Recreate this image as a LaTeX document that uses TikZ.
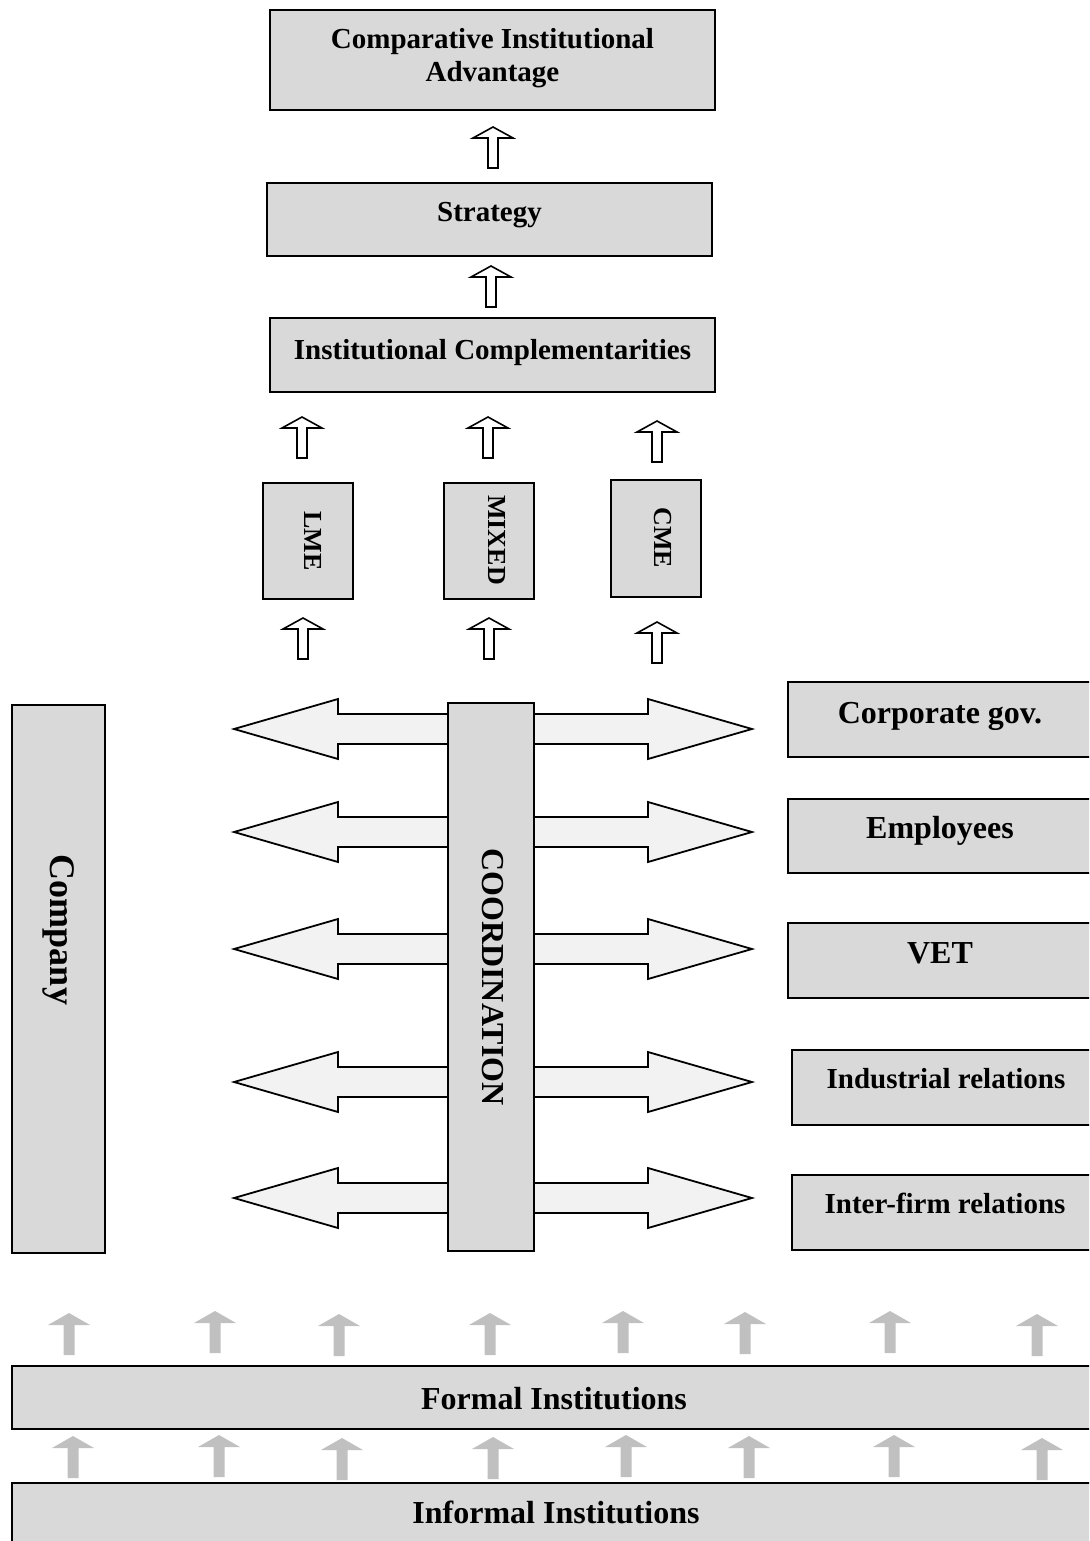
\documentclass[tikz,border=0pt]{standalone}
\usepackage{fontspec}
\setmainfont{Liberation Serif}
\definecolor{boxgray}{RGB}{217,217,217}
\definecolor{arrowfill}{RGB}{242,242,242}
\definecolor{upgray}{RGB}{192,192,192}
\begin{document}
\begin{tikzpicture}[x=0.5pt, y=-0.5pt,
    box/.style={draw, line width=1pt, fill=boxgray, inner sep=0pt},
    lbl/.style={font=\fontsize{14.5}{16.5}\selectfont\bfseries, inner sep=0pt},
    biglbl/.style={font=\fontsize{16}{18}\selectfont\bfseries, inner sep=0pt},
    smalllbl/.style={font=\fontsize{13}{15}\selectfont\bfseries, inner sep=0pt},
    hollow/.pic={\draw[line width=0.8pt, fill=white] (-5,0) -- (5,0) -- (5,-30) -- (20,-30) -- (0,-41) -- (-20,-30) -- (-5,-30) -- cycle;},
    greyup/.pic={\fill[upgray] (-5.5,0) -- (5.5,0) -- (5.5,-30) -- (21,-30) -- (0,-42) -- (-21,-30) -- (-5.5,-30) -- cycle;},
    twoway/.pic={\draw[line width=0.9pt, fill=arrowfill] (-259,0) -- (-155,-30) -- (-155,-15) -- (155,-15) -- (155,-30) -- (259,0) -- (155,30) -- (155,15) -- (-155,15) -- (-155,30) -- cycle;}
  ]
  \useasboundingbox (0,0) rectangle (1089,1541);
  \clip (0,0) rectangle (1089,1541);

  \foreach \y in {729,832,949,1082,1198}
    \pic at (493,\y) {twoway};

  \node[box, minimum width=222.5pt, minimum height=50pt] (cia) at (492.5,60) {};
  \node[box, minimum width=222.5pt, minimum height=36.5pt] (strat) at (489.5,219.5) {};
  \node[box, minimum width=222.5pt, minimum height=37pt] (ic) at (492.5,355) {};
  \node[box, minimum width=45pt, minimum height=58pt] (lme) at (308,541) {};
  \node[box, minimum width=45pt, minimum height=58pt] (mixed) at (489,541) {};
  \node[box, minimum width=45pt, minimum height=58.5pt] (cme) at (656,538.5) {};
  \node[box, minimum width=46.5pt, minimum height=274pt] (company) at (58.5,979) {};
  \node[box, minimum width=43pt, minimum height=274pt] (coord) at (490.5,977) {};
  \node[box, minimum width=156pt, minimum height=37.5pt] (corp) at (944,719.5) {};
  \node[box, minimum width=156pt, minimum height=37pt] (empl) at (944,836) {};
  \node[box, minimum width=156pt, minimum height=37.5pt] (vet) at (944,960.5) {};
  \node[box, minimum width=154pt, minimum height=37.5pt] (indrel) at (946,1087.5) {};
  \node[box, minimum width=154pt, minimum height=37.5pt] (ifrel) at (946,1212.5) {};
  \node[box, minimum width=544pt, minimum height=31.5pt] (formal) at (556,1397.5) {};
  \node[box, minimum width=544pt, minimum height=38.5pt] (informal) at (556,1521.5) {};

  \node[lbl, align=center] (cia-t) at (492.5,58.5) {Comparative Institutional\\Advantage};
  \node[lbl, anchor=base] (strat-t) at (489.5,221) {Strategy};
  \node[lbl, anchor=base] (ic-t) at (492.5,359) {Institutional Complementarities};
  \node[smalllbl, rotate=-90] (lme-t) at (313,541) {LME};
  \node[smalllbl, rotate=-90] (mixed-t) at (497,540) {MIXED};
  \node[smalllbl, rotate=-90] (cme-t) at (663,538) {CME};
  \node[biglbl, font=\fontsize{18}{20}\selectfont\bfseries, rotate=-90] (company-t) at (59,930) {Company};
  \node[biglbl, rotate=-90] (coord-t) at (493,977) {COORDINATION};
  \node[biglbl, anchor=base] (corp-t) at (940,723) {Corporate gov.};
  \node[biglbl, anchor=base] (empl-t) at (940,838) {Employees};
  \node[biglbl, anchor=base] (vet-t) at (940,963) {VET};
  \node[lbl, anchor=base] (indrel-t) at (946,1088) {Industrial relations};
  \node[lbl, anchor=base] (ifrel-t) at (945,1213) {Inter-firm relations};
  \node[biglbl, anchor=base] (formal-t) at (554,1409) {Formal Institutions};
  \node[biglbl, anchor=base] (informal-t) at (556,1523.5) {Informal Institutions};

  \foreach \x/\y in {493/168, 491/307, 302/458, 488/458, 657/462, 303/659, 489/659, 657/663}
    \pic at (\x,\y) {hollow};

  \foreach \x/\y in {69/1355, 215/1353, 339/1356, 490/1355, 623/1353, 745/1354, 890/1353, 1037/1356,
                     73/1478, 219/1477, 342/1480, 493/1479, 626/1477, 749/1478, 894/1477, 1042/1480}
    \pic at (\x,\y) {greyup};
\end{tikzpicture}
\end{document}
